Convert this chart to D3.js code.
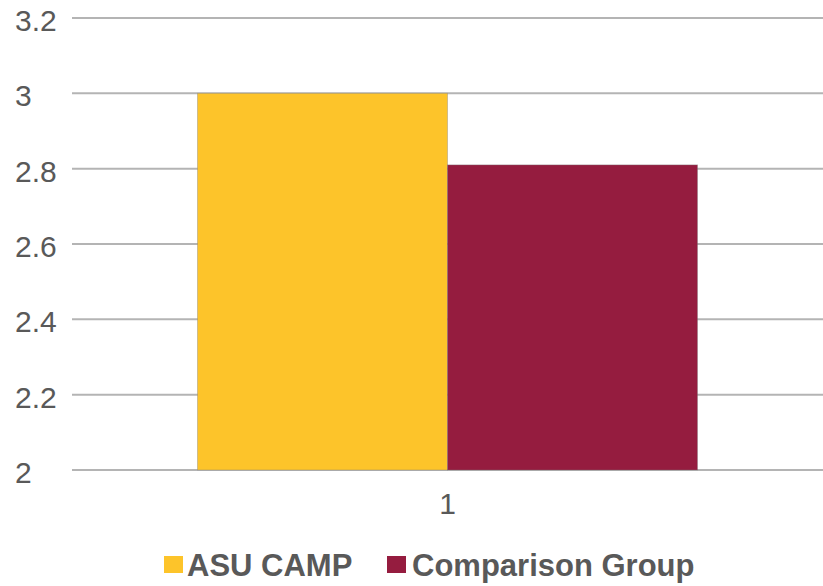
<!DOCTYPE html>
<html>
<head>
<meta charset="utf-8">
<script src="https://cdn.jsdelivr.net/npm/d3@7"></script>
<style>
  body { margin: 0; background: #fff; }
  text { font-family: "Liberation Sans", Arial, sans-serif; fill: #595959; }
</style>
</head>
<body>
<div id="chart"></div>
<script>
// data
const categories = ["1"];
const seriesNames = ["ASU CAMP", "Comparison Group"];
const seriesColors = ["#FDC42A", "#951C3F"];
const asuCamp = [3.0];
const comparisonGroup = [2.81];
const yTicks = [2, 2.2, 2.4, 2.6, 2.8, 3, 3.2];

const W = 823, H = 586;
const margin = {top: 18, right: 0, bottom: 116, left: 72};

const svg = d3.select("#chart").append("svg")
  .attr("width", W)
  .attr("height", H);

//Scales
const x0 = d3.scaleBand()
  .domain(categories)
  .range([margin.left, W - margin.right])
  .paddingInner(0)
  .paddingOuter(0.251);

const x1 = d3.scaleBand()
  .domain(seriesNames)
  .range([0, x0.bandwidth()]);

const y = d3.scaleLinear()
  .domain([2, 3.2])
  .range([H - margin.bottom, margin.top]);

//Gridlines
svg.append("g")
  .selectAll("line")
  .data(yTicks)
  .enter().append("line")
  .attr("x1", margin.left)
  .attr("x2", W - margin.right)
  .attr("y1", d => y(d))
  .attr("y2", d => y(d))
  .style("stroke", "#b4b4b4")
  .style("stroke-width", 2);

//Y tick labels
svg.append("g")
  .selectAll("text")
  .data(yTicks)
  .enter().append("text")
  .attr("x", 15)
  .attr("y", d => y(d) + 13)
  .style("font-size", "30px")
  .text(d => d3.format("")(d));

//Bars
const rows = categories.map((c, i) => ({cat: c, values: [asuCamp[i], comparisonGroup[i]]}));

const groups = svg.append("g")
  .selectAll("g")
  .data(rows)
  .enter().append("g")
  .attr("transform", d => "translate(" + x0(d.cat) + ",0)");

groups.selectAll("rect")
  .data(d => d.values.map((v, j) => ({name: seriesNames[j], value: v, color: seriesColors[j]})))
  .enter().append("rect")
  .attr("x", d => x1(d.name))
  .attr("width", x1.bandwidth())
  .attr("y", d => y(d.value))
  .attr("height", d => y(2) - y(d.value))
  .style("fill", d => d.color)
  .style("stroke", "rgba(120,120,120,0.35)")
  .style("stroke-width", 1);

//X labels
svg.append("g")
  .selectAll("text")
  .data(categories)
  .enter().append("text")
  .attr("x", d => x0(d) + x0.bandwidth() / 2)
  .attr("y", 514)
  .attr("text-anchor", "middle")
  .style("font-size", "30px")
  .text(d => d);

//Legend
const legendX = [164, 387];
const legend = svg.append("g")
  .selectAll("g")
  .data(seriesNames)
  .enter().append("g")
  .attr("transform", (d, i) => "translate(" + legendX[i] + ",556)");

legend.append("rect")
  .attr("width", 19)
  .attr("height", 17)
  .style("fill", (d, i) => seriesColors[i]);

legend.append("text")
  .attr("x", (d, i) => i === 0 ? 23 : 25)
  .attr("y", 20)
  .style("font-size", "31px")
  .style("font-weight", "bold")
  .text(d => d);
</script>
</body>
</html>
